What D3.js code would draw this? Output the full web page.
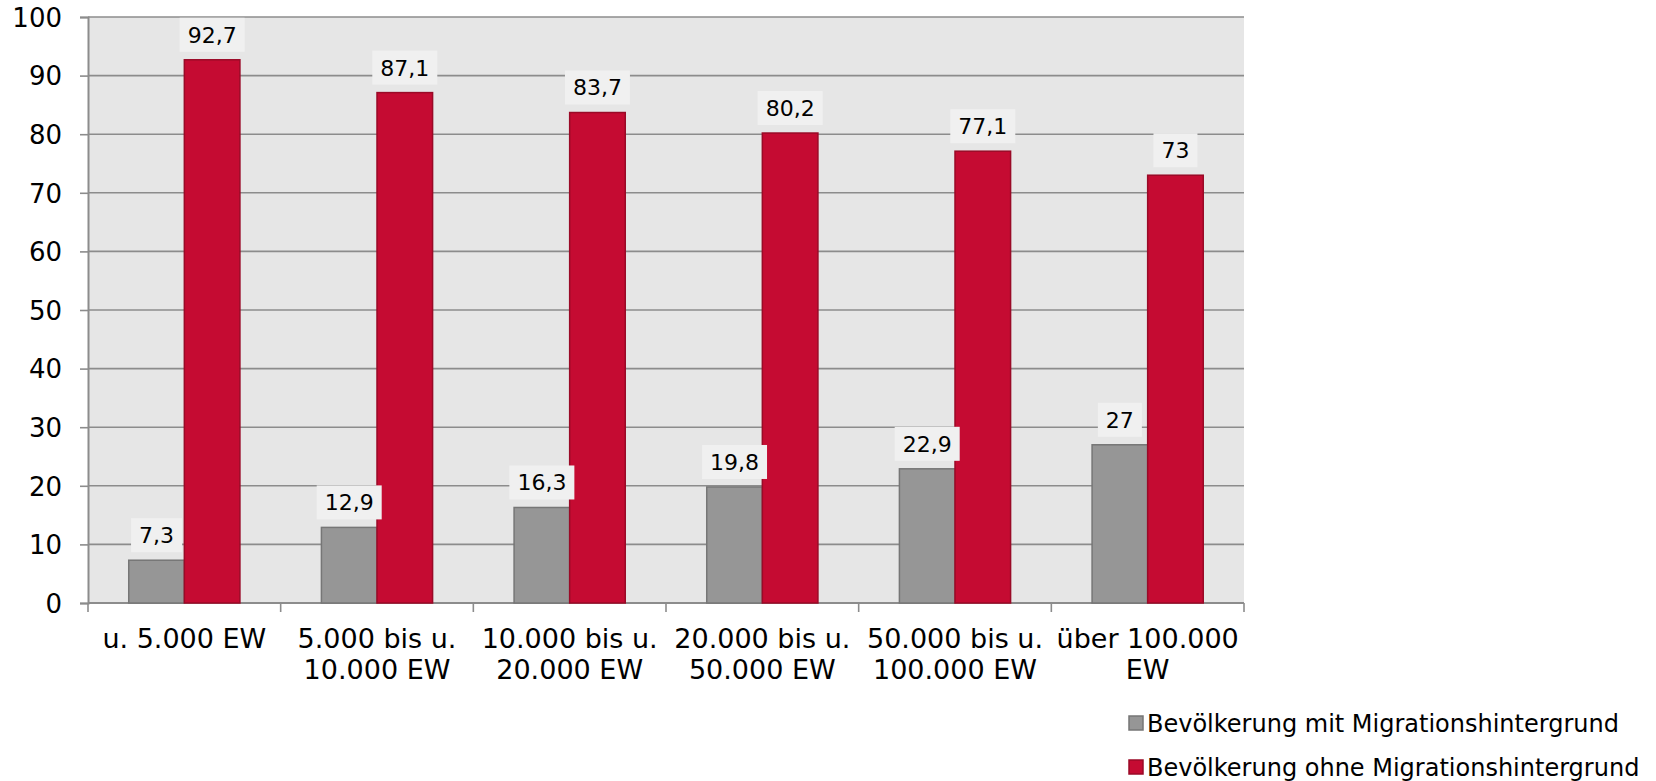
<!DOCTYPE html>
<html>
<head>
<meta charset="utf-8">
<script src="https://cdn.jsdelivr.net/npm/d3@7"></script>
<style>
  body { margin: 0; background: #fff; }
  text { font-family: "DejaVu Sans", Verdana, sans-serif; fill: #000; }
</style>
</head>
<body>
<div id="chart"></div>
<script>
let categories = [
  "u. 5.000 EW",
  "5.000 bis u.|10.000 EW",
  "10.000 bis u.|20.000 EW",
  "20.000 bis u.|50.000 EW",
  "50.000 bis u.|100.000 EW",
  "über 100.000|EW"
];
let seriesNames = ["Bevölkerung mit Migrationshintergrund", "Bevölkerung ohne Migrationshintergrund"];
let mitValues = [7.3, 12.9, 16.3, 19.8, 22.9, 27];
let ohneValues = [92.7, 87.1, 83.7, 80.2, 77.1, 73];
let yTicks = [0, 10, 20, 30, 40, 50, 60, 70, 80, 90, 100];

let svgWidth = 1656;
let svgHeight = 781;

let margin = { top: 17, right: 412, bottom: 178, left: 88 };
let width = svgWidth - margin.left - margin.right;
let height = svgHeight - margin.top - margin.bottom;

let fills = ["#969696", "#c50b32"];
let strokes = ["#767676", "#9a0a27"];

let svg = d3.select("#chart")
  .append("svg")
  .attr("width", svgWidth)
  .attr("height", svgHeight);

let chartGroup = svg.append("g")
  .attr("transform", `translate(${margin.left}, ${margin.top})`);

let x0 = d3.scaleBand()
  .domain(categories)
  .range([0, width])
  .padding(0);

let x1 = d3.scaleBand()
  .domain(seriesNames)
  .range([0, x0.bandwidth()])
  .paddingInner(0)
  .paddingOuter(0.733);

let y = d3.scaleLinear()
  .domain([0, 100])
  .range([height, 0]);

// plot background
chartGroup.append("rect")
  .attr("width", width)
  .attr("height", height)
  .attr("fill", "#e6e6e6");

// gridlines
chartGroup.selectAll(".grid")
  .data(yTicks.filter(d => d > 0))
  .enter()
  .append("line")
  .attr("x1", 0)
  .attr("x2", width)
  .attr("y1", d => y(d))
  .attr("y2", d => y(d))
  .attr("stroke", "#8c8c8c")
  .attr("stroke-width", 1.6);

// y axis
let leftAxis = d3.axisLeft(y)
  .tickValues(yTicks)
  .tickSize(8)
  .tickPadding(18)
  .tickFormat(d => d);

let yAxis = chartGroup.append("g").call(leftAxis);
yAxis.select(".domain").attr("stroke", "#8c8c8c").attr("stroke-width", 2);
yAxis.selectAll(".tick line").attr("stroke", "#8c8c8c").attr("stroke-width", 1.6);
yAxis.selectAll(".tick text")
  .attr("font-size", "26px")
  .attr("font-family", "DejaVu Sans, Verdana, sans-serif")
  .attr("dy", "0.36em");

// x axis line and ticks at category boundaries
chartGroup.append("line")
  .attr("x1", 0)
  .attr("x2", width)
  .attr("y1", height)
  .attr("y2", height)
  .attr("stroke", "#8c8c8c")
  .attr("stroke-width", 2);

let boundaries = categories.map(c => x0(c)).concat([width]);
chartGroup.selectAll(".xtick")
  .data(boundaries)
  .enter()
  .append("line")
  .attr("x1", d => d)
  .attr("x2", d => d)
  .attr("y1", height)
  .attr("y2", height + 9)
  .attr("stroke", "#8c8c8c")
  .attr("stroke-width", 1.6);

// x labels
let xLabels = chartGroup.selectAll(".xlabel")
  .data(categories)
  .enter()
  .append("text")
  .attr("text-anchor", "middle")
  .attr("font-size", "27px")
  .attr("transform", d => `translate(${x0(d) + x0.bandwidth() / 2}, ${height + 45})`);

xLabels.selectAll("tspan")
  .data(d => d.split("|"))
  .enter()
  .append("tspan")
  .attr("x", 0)
  .attr("y", (d, i) => i * 30.5)
  .text(d => d);

// bars
let seriesData = [mitValues, ohneValues];
let barData = [];
categories.forEach((c, i) => {
  seriesNames.forEach((s, j) => {
    barData.push({ cat: c, series: s, idx: j, value: seriesData[j][i] });
  });
});

chartGroup.selectAll(".bar")
  .data(barData)
  .enter()
  .append("rect")
  .attr("x", d => x0(d.cat) + x1(d.series))
  .attr("y", d => y(d.value))
  .attr("width", x1.bandwidth())
  .attr("height", d => height - y(d.value))
  .attr("fill", d => fills[d.idx])
  .attr("stroke", d => strokes[d.idx])
  .attr("stroke-width", 1.5);

// data labels
let labels = chartGroup.selectAll(".dlabel")
  .data(barData)
  .enter()
  .append("g")
  .attr("transform", d => `translate(${x0(d.cat) + x1(d.series) + x1.bandwidth() / 2}, ${y(d.value) - 8 - 17})`);

let boxes = labels.append("rect").attr("fill", "#f0f0f0");

let labelTexts = labels.append("text")
  .attr("text-anchor", "middle")
  .attr("font-size", "22px")
  .attr("dy", "0.36em")
  .text(d => String(d.value).replace(".", ","));

labelTexts.each(function() {
  let w = this.getComputedTextLength() + 16;
  d3.select(this.previousSibling)
    .attr("x", -w / 2)
    .attr("y", -17)
    .attr("width", w)
    .attr("height", 34);
});

// legend
let legend = svg.selectAll(".legend")
  .data(seriesNames)
  .enter()
  .append("g")
  .attr("transform", (d, i) => `translate(1129, ${723 + i * 44})`);

legend.append("rect")
  .attr("x", 0)
  .attr("y", -7)
  .attr("width", 14)
  .attr("height", 14)
  .attr("fill", (d, i) => fills[i])
  .attr("stroke", (d, i) => strokes[i])
  .attr("stroke-width", 1.5);

legend.append("text")
  .attr("x", 18)
  .attr("dy", "0.36em")
  .attr("font-size", "24px")
  .text(d => d);
</script>
</body>
</html>
